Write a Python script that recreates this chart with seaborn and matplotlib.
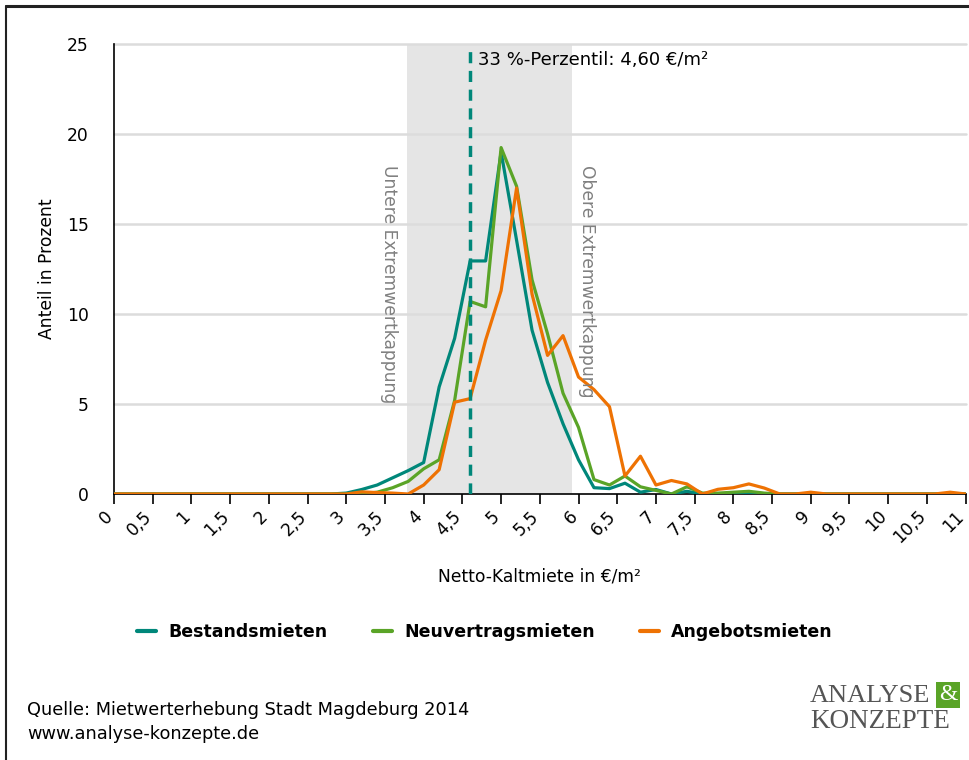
import numpy as np
import pandas as pd
import matplotlib.pyplot as plt
import matplotlib.transforms as mtransforms
import seaborn as sns
from matplotlib.lines import Line2D

# --- data (share in percent per 0.20 EUR class) ---
miete = [0.0, 0.2, 0.4, 0.6, 0.8, 1.0, 1.2, 1.4, 1.6, 1.8,
         2.0, 2.2, 2.4, 2.6, 2.8, 3.0, 3.2, 3.4, 3.6, 3.8,
         4.0, 4.2, 4.4, 4.6, 4.8, 5.0, 5.2, 5.4, 5.6, 5.8,
         6.0, 6.2, 6.4, 6.6, 6.8, 7.0, 7.2, 7.4, 7.6, 7.8,
         8.0, 8.2, 8.4, 8.6, 8.8, 9.0, 9.2, 9.4, 9.6, 9.8,
         10.0, 10.2, 10.4, 10.6, 10.8, 11.0]

bestand = [0, 0, 0, 0, 0, 0, 0, 0, 0, 0,
           0, 0, 0, 0, 0, 0.05, 0.25, 0.5, 0.9, 1.3,
           1.75, 5.95, 8.65, 12.95, 12.95, 19.0, 14.1, 9.1, 6.2, 3.9,
           1.9, 0.35, 0.3, 0.6, 0.1, 0.25, 0.0, 0.15, 0, 0,
           0, 0.05, 0, 0, 0, 0, 0, 0, 0, 0,
           0, 0, 0, 0, 0, 0]

neuvertrag = [0, 0, 0, 0, 0, 0, 0, 0, 0, 0,
              0, 0, 0, 0, 0, 0, 0, 0.1, 0.35, 0.7,
              1.4, 1.9, 5.2, 10.7, 10.4, 19.25, 17.1, 11.9, 8.9, 5.6,
              3.7, 0.8, 0.5, 1.0, 0.4, 0.2, 0.0, 0.4, 0.05, 0.05,
              0.1, 0.15, 0.05, 0, 0, 0, 0, 0, 0, 0,
              0, 0, 0, 0, 0, 0]

angebot = [0, 0, 0, 0, 0, 0, 0, 0, 0, 0,
           0, 0, 0, 0, 0, 0, 0.12, 0.08, 0.05, 0.0,
           0.5, 1.35, 5.1, 5.3, 8.55, 11.3, 17.0, 11.1, 7.7, 8.8,
           6.5, 5.8, 4.85, 1.0, 2.1, 0.5, 0.75, 0.56, 0.0, 0.26,
           0.35, 0.56, 0.33, 0, 0, 0.1, 0, 0, 0, 0,
           0, 0, 0, 0, 0.1, 0]

serien = ["Bestandsmieten", "Neuvertragsmieten", "Angebotsmieten"]
farben = ["#00877a", "#5aa427", "#ee7203"]

x_ticks = [0, 0.5, 1, 1.5, 2, 2.5, 3, 3.5, 4, 4.5, 5, 5.5, 6, 6.5, 7, 7.5,
           8, 8.5, 9, 9.5, 10, 10.5, 11]
x_labels = ["0", "0,5", "1", "1,5", "2", "2,5", "3", "3,5", "4", "4,5", "5", "5,5",
            "6", "6,5", "7", "7,5", "8", "8,5", "9", "9,5", "10", "10,5", "11"]

perzentil = 4.60
kappung_unten = 3.78
kappung_oben = 5.92

df = pd.DataFrame({
    "Miete": miete * 3,
    "Anteil": bestand + neuvertrag + angebot,
    "Serie": [serien[0]] * len(miete) + [serien[1]] * len(miete) + [serien[2]] * len(miete),
})

sns.set_style("ticks")
plt.rcParams["font.family"] = ["DejaVu Sans"]
plt.rcParams["text.color"] = "black"
plt.rcParams["axes.labelcolor"] = "black"
plt.rcParams["xtick.color"] = "black"
plt.rcParams["ytick.color"] = "black"
plt.rcParams["xtick.major.size"] = 7
plt.rcParams["xtick.major.width"] = 1.2

fs = 12.3

fig = plt.figure(figsize=(9.7, 7.6), dpi=100)
ax = fig.add_axes([0.1175, 0.35, 0.878, 0.592])

# grey band between the caps
ax.axvspan(kappung_unten, kappung_oben, color="#e5e5e5", zorder=0, lw=0)
for yv in [5, 10, 15, 20, 25]:
    ax.axhline(yv, color="#dcdcdc", lw=1.8, zorder=0.5, clip_on=False)

sns.lineplot(data=df, x="Miete", y="Anteil", hue="Serie", palette=farben,
             hue_order=serien, lw=2.3, ax=ax, legend=False, zorder=3)

ax.axvline(perzentil, color=farben[0], lw=2.5, ls=(0, (3.2, 2.2)), zorder=4)
ax.text(perzentil + 0.1, 24.1, "33 %-Perzentil: 4,60 €/m²", fontsize=13,
        va="center", ha="left")

ax.text(3.55, 18.3, "Untere Extremwertkappung", rotation=-90, fontsize=fs,
        color="#808080", ha="center", va="top")
ax.text(6.11, 18.3, "Obere Extremwertkappung", rotation=-90, fontsize=fs,
        color="#808080", ha="center", va="top")

ax.set_xlim(0, 11)
ax.set_ylim(0, 25)
ax.set_yticks([0, 5, 10, 15, 20, 25])
ax.set_xticks(x_ticks)
ax.set_xticklabels(x_labels, rotation=45, ha="right", va="center",
                   rotation_mode="anchor")
ax.tick_params(axis="x", length=7, width=1.2, color="black",
               direction="out", labelsize=fs, pad=7, bottom=True)
ax.tick_params(axis="y", length=0, labelsize=fs, pad=18, left=False)
shift = mtransforms.ScaledTranslation(-4 / 100, 0, fig.dpi_scale_trans)
for lab in ax.get_xticklabels():
    lab.set_transform(lab.get_transform() + shift)
for s in ["top", "right"]:
    ax.spines[s].set_visible(False)
for s in ["left", "bottom"]:
    ax.spines[s].set_color("black")
    ax.spines[s].set_linewidth(1.2)

ax.set_xlabel("Netto-Kaltmiete in €/m²", fontsize=fs, labelpad=15)
ax.set_ylabel("Anteil in Prozent", fontsize=fs, labelpad=8)

handles = [Line2D([0], [0], color=c, lw=3) for c in farben]
fig.legend(handles, serien, loc="center", bbox_to_anchor=(0.5, 0.168), ncol=3,
           frameon=False, handlelength=1.1, handletextpad=0.7, columnspacing=2.6,
           prop={"weight": "bold", "size": 12.5})

fig.text(0.028, 1 - 710 / 760, "Quelle: Mietwerterhebung Stadt Magdeburg 2014",
         fontsize=12.8, va="center", ha="left")
fig.text(0.028, 1 - 734 / 760, "www.analyse-konzepte.de",
         fontsize=12.8, va="center", ha="left")

# logo
fig.text(810 / 970, 1 - 696 / 760, "ANALYSE", family="Liberation Serif",
         fontsize=19, color="#555555", va="center", ha="left")
fig.text(948 / 970, 1 - 695 / 760, "&", family="Liberation Serif",
         fontsize=17, color="white", va="center", ha="center",
         bbox=dict(boxstyle="square,pad=0.1", fc="#5aa427", ec="none"))
fig.text(810 / 970, 1 - 721 / 760, "KONZEPTE", family="Liberation Serif",
         fontsize=19.5, color="#555555", va="center", ha="left")

# frame lines (top and left)
fig.add_artist(Line2D([0.006, 1.0], [0.992, 0.992], color="#222222", lw=2.2,
                      transform=fig.transFigure))
fig.add_artist(Line2D([0.006, 0.006], [0.0, 0.992], color="#222222", lw=1.5,
                      transform=fig.transFigure))

fig.savefig("out.png", dpi=100)
